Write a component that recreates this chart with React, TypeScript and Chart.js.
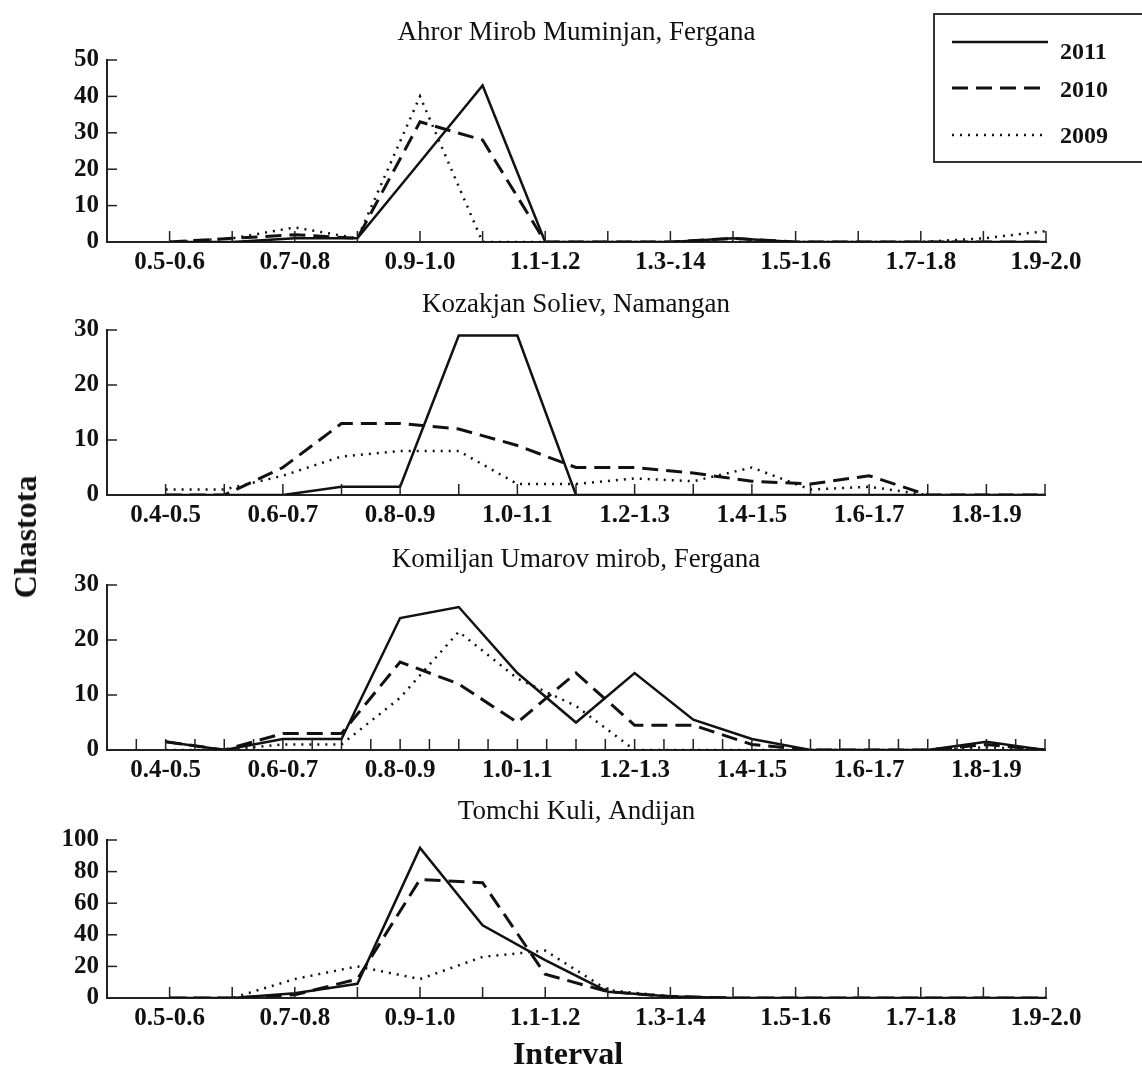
import React, { useEffect, useRef } from "react";
import { Chart, registerables } from "chart.js";

Chart.register(...registerables);

const FONT = "'Liberation Serif', 'Times New Roman', serif";
const INK = "#111111";
const AXIS = "#222222";

// ---------- data ----------
const SERIES_LABELS = ["2011", "2010", "2009"];

const p1Title = "Ahror Mirob Muminjan, Fergana";
const p1Categories = ["0.5-0.6", "0.6-0.7", "0.7-0.8", "0.8-0.9", "0.9-1.0", "1.0-1.1", "1.1-1.2", "1.2-1.3", "1.3-.14", "1.4-1.5", "1.5-1.6", "1.6-1.7", "1.7-1.8", "1.8-1.9", "1.9-2.0"];
const p1Y2011 = [0, 0, 1, 1, 22, 43, 0, 0, 0, 1, 0, 0, 0, 0, 0];
const p1Y2010 = [0, 1, 2, 1, 33, 28, 0, 0, 0, 1, 0, 0, 0, 0, 0];
const p1Y2009 = [0, 1, 4, 1, 40, 0, 0, 0, 0, 0, 0, 0, 0, 1, 3];
const p1YTicks = [0, 10, 20, 30, 40, 50];

const p2Title = "Kozakjan Soliev, Namangan";
const p2Categories = ["0.4-0.5", "0.5-0.6", "0.6-0.7", "0.7-0.8", "0.8-0.9", "0.9-1.0", "1.0-1.1", "1.1-1.2", "1.2-1.3", "1.3-1.4", "1.4-1.5", "1.5-1.6", "1.6-1.7", "1.7-1.8", "1.8-1.9", "1.9-2.0"];
const p2Y2011 = [0, 0, 0, 1.5, 1.5, 29, 29, 0, 0, 0, 0, 0, 0, 0, 0, 0];
const p2Y2010 = [0, 0, 5, 13, 13, 12, 9, 5, 5, 4, 2.5, 2, 3.5, 0, 0, 0];
const p2Y2009 = [1, 1, 3.5, 7, 8, 8, 2, 2, 3, 2.5, 5, 1, 1.5, 0, 0, 0];
const p2YTicks = [0, 10, 20, 30];

const p3Title = "Komiljan Umarov mirob, Fergana";
const p3Categories = ["0.4-0.5", "0.5-0.6", "0.6-0.7", "0.7-0.8", "0.8-0.9", "0.9-1.0", "1.0-1.1", "1.1-1.2", "1.2-1.3", "1.3-1.4", "1.4-1.5", "1.5-1.6", "1.6-1.7", "1.7-1.8", "1.8-1.9", "1.9-2.0"];
const p3Y2011 = [1.5, 0, 2, 2, 24, 26, 14, 5, 14, 5.5, 2, 0, 0, 0, 1.5, 0];
const p3Y2010 = [1.5, 0, 3, 3, 16, 12, 5, 14, 4.5, 4.5, 1, 0, 0, 0, 1, 0];
const p3Y2009 = [0, 0, 1, 1, 9.5, 21.5, 13, 8, 0, 0, 0, 0, 0, 0, 0.5, 0];
const p3YTicks = [0, 10, 20, 30];

const p4Title = "Tomchi Kuli, Andijan";
const p4Categories = ["0.5-0.6", "0.6-0.7", "0.7-0.8", "0.8-0.9", "0.9-1.0", "1.0-1.1", "1.1-1.2", "1.2-1.3", "1.3-1.4", "1.4-1.5", "1.5-1.6", "1.6-1.7", "1.7-1.8", "1.8-1.9", "1.9-2.0"];
const p4Y2011 = [0, 0, 3, 9, 95, 46, 24, 4, 1, 0, 0, 0, 0, 0, 0];
const p4Y2010 = [0, 0, 2, 12, 75, 73, 15, 4, 1, 0, 0, 0, 0, 0, 0];
const p4Y2009 = [0, 0, 12, 20, 12, 26, 30, 5, 1, 0, 0, 0, 0, 0, 0];
const p4YTicks = [0, 20, 40, 60, 80, 100];

const Y_AXIS_TITLE = "Chastota";
const X_AXIS_TITLE = "Interval";

// ---------- styles / layout ----------
const SERIES_STYLES = [
  { borderWidth: 2.5, borderDash: [] as number[] },
  { borderWidth: 3, borderDash: [16, 8] },
  { borderWidth: 2.5, borderDash: [2, 6] },
];

const PAGE_W = 1142;
const PAGE_H = 1068;
const Y_AXIS_W = 107;

type PanelDef = {
  title: string;
  categories: string[];
  series: number[][];
  yTicks: number[];
  xStep: number;
  legend: boolean;
  top: number;
  height: number;
  rightPad: number;
  titlePadTop: number;
  titlePadBottom: number;
  xAxisHeight: number;
};

const PANELS: PanelDef[] = [
  { title: p1Title, categories: p1Categories, series: [p1Y2011, p1Y2010, p1Y2009], yTicks: p1YTicks, xStep: 1, legend: true,
    top: 0, height: 290, rightPad: 96, titlePadTop: 18, titlePadBottom: 12.3, xAxisHeight: 48 },
  { title: p2Title, categories: p2Categories, series: [p2Y2011, p2Y2010, p2Y2009], yTicks: p2YTicks, xStep: 1, legend: false,
    top: 290, height: 255, rightPad: 97, titlePadTop: 0, titlePadBottom: 10.3, xAxisHeight: 50 },
  { title: p3Title, categories: p3Categories, series: [p3Y2011, p3Y2010, p3Y2009], yTicks: p3YTicks, xStep: 0.5, legend: false,
    top: 545, height: 250, rightPad: 97, titlePadTop: 0, titlePadBottom: 10.3, xAxisHeight: 45 },
  { title: p4Title, categories: p4Categories, series: [p4Y2011, p4Y2010, p4Y2009], yTicks: p4YTicks, xStep: 1, legend: false,
    top: 795, height: 273, rightPad: 96, titlePadTop: 2, titlePadBottom: 13.3, xAxisHeight: 70 },
];

const LEGEND_BOX = { x: 934, y: 14, w: 300, h: 148 };
const LEGEND_LINE_X = [952, 1048];
const LEGEND_LINE_Y = [42, 88, 135];
const LEGEND_TEXT_X = 1060;
const LEGEND_TEXT_Y = [53, 91, 137];

const innerTicksPlugin = {
  id: "innerTicks",
  afterDatasetsDraw(chart: any) {
    const { ctx, chartArea, scales } = chart;
    const xs = scales.x;
    const ys = scales.y;
    ctx.save();
    ctx.strokeStyle = AXIS;
    ctx.lineWidth = 1.5;
    xs.ticks.forEach((t: any) => {
      const px = xs.getPixelForValue(t.value);
      if (Math.abs(px - chartArea.left) < 1) return;
      ctx.beginPath();
      ctx.moveTo(px, chartArea.bottom);
      ctx.lineTo(px, chartArea.bottom - 11);
      ctx.stroke();
    });
    ys.ticks.forEach((t: any) => {
      const py = ys.getPixelForValue(t.value);
      if (Math.abs(py - chartArea.bottom) < 1) return;
      ctx.beginPath();
      ctx.moveTo(chartArea.left, py);
      ctx.lineTo(chartArea.left + 10, py);
      ctx.stroke();
    });
    ctx.restore();
  },
};

const boxLegendPlugin = {
  id: "boxLegend",
  afterDraw(chart: any, _args: any, opts: any) {
    if (!opts || !opts.enabled) return;
    const { ctx } = chart;
    ctx.save();
    ctx.strokeStyle = "#333333";
    ctx.lineWidth = 2;
    ctx.setLineDash([]);
    ctx.strokeRect(LEGEND_BOX.x, LEGEND_BOX.y, LEGEND_BOX.w, LEGEND_BOX.h);
    chart.data.datasets.forEach((ds: any, i: number) => {
      ctx.strokeStyle = ds.borderColor;
      ctx.lineWidth = ds.borderWidth;
      ctx.setLineDash(ds.borderDash || []);
      ctx.beginPath();
      ctx.moveTo(LEGEND_LINE_X[0], LEGEND_LINE_Y[i]);
      ctx.lineTo(LEGEND_LINE_X[1], LEGEND_LINE_Y[i]);
      ctx.stroke();
      ctx.setLineDash([]);
      ctx.fillStyle = INK;
      ctx.font = `bold 24px ${FONT}`;
      ctx.textAlign = "left";
      ctx.textBaseline = "middle";
      ctx.fillText(ds.label, LEGEND_TEXT_X, LEGEND_TEXT_Y[i]);
    });
    ctx.restore();
  },
};

function Panel({ def }: { def: PanelDef }) {
  const ref = useRef<HTMLCanvasElement | null>(null);
  useEffect(() => {
    if (!ref.current) return;
    const n = def.categories.length;
    const yMax = def.yTicks[def.yTicks.length - 1];
    const yStep = def.yTicks[1] - def.yTicks[0];
    const chart = new Chart(ref.current, {
      type: "line",
      data: {
        datasets: def.series.map((vals, k) => ({
          label: SERIES_LABELS[k],
          data: vals.map((v, i) => ({ x: i + 1, y: v })),
          borderColor: INK,
          backgroundColor: INK,
          borderWidth: SERIES_STYLES[k].borderWidth,
          borderDash: SERIES_STYLES[k].borderDash,
          pointRadius: 0,
          tension: 0,
          fill: false,
        })),
      },
      options: {
        responsive: false,
        animation: false,
        devicePixelRatio: 1,
        layout: { padding: { left: 0, right: def.rightPad, top: 0, bottom: 0 } },
        plugins: {
          legend: { display: false },
          tooltip: { enabled: false },
          title: {
            display: true,
            fullSize: false,
            text: def.title,
            color: INK,
            font: { family: FONT, size: 27, weight: "normal", lineHeight: 1.1 },
            padding: { top: def.titlePadTop, bottom: def.titlePadBottom },
          },
          boxLegend: { enabled: def.legend },
        } as any,
        scales: {
          x: {
            type: "linear",
            min: 0,
            max: n,
            grid: { display: false, drawTicks: false },
            border: { display: true, color: AXIS, width: 2 },
            afterFit: (s: any) => { s.height = def.xAxisHeight; },
            ticks: {
              stepSize: def.xStep,
              autoSkip: false,
              maxTicksLimit: 200,
              maxRotation: 0,
              minRotation: 0,
              padding: 6,
              color: INK,
              font: { family: FONT, size: 25, weight: "bold", lineHeight: 1.2 },
              callback: (value: any) => {
                const v = Number(value);
                if (Number.isInteger(v) && v % 2 === 1) return def.categories[v - 1];
                return "";
              },
            },
          },
          y: {
            min: 0,
            max: yMax,
            grid: { display: false, drawTicks: false },
            border: { display: true, color: AXIS, width: 2 },
            afterFit: (s: any) => { s.width = Y_AXIS_W; },
            ticks: {
              stepSize: yStep,
              autoSkip: false,
              padding: 8,
              color: INK,
              font: { family: FONT, size: 25, weight: "bold", lineHeight: 1.2 },
            },
          },
        },
      },
      plugins: [innerTicksPlugin, boxLegendPlugin],
    } as any);
    return () => chart.destroy();
  }, [def]);
  return (
    <canvas
      ref={ref}
      width={PAGE_W}
      height={def.height}
      style={{ position: "absolute", left: 0, top: def.top, width: PAGE_W, height: def.height, display: "block" }}
    />
  );
}

export default function App() {
  return (
    <div
      style={{
        position: "absolute",
        left: 0,
        top: 0,
        width: PAGE_W,
        height: PAGE_H,
        overflow: "hidden",
        background: "#ffffff",
      }}
    >
      {PANELS.map((p, i) => (
        <Panel key={i} def={p} />
      ))}
      <div
        style={{
          position: "absolute",
          left: 25,
          top: 537,
          transform: "translate(-50%, -50%) rotate(-90deg)",
          font: `bold 32px ${FONT}`,
          lineHeight: 1,
          whiteSpace: "nowrap",
          color: INK,
        }}
      >
        {Y_AXIS_TITLE}
      </div>
      <div
        style={{
          position: "absolute",
          left: 568,
          top: 1053,
          transform: "translate(-50%, -50%)",
          font: `bold 32px ${FONT}`,
          lineHeight: 1,
          whiteSpace: "nowrap",
          color: INK,
        }}
      >
        {X_AXIS_TITLE}
      </div>
    </div>
  );
}
